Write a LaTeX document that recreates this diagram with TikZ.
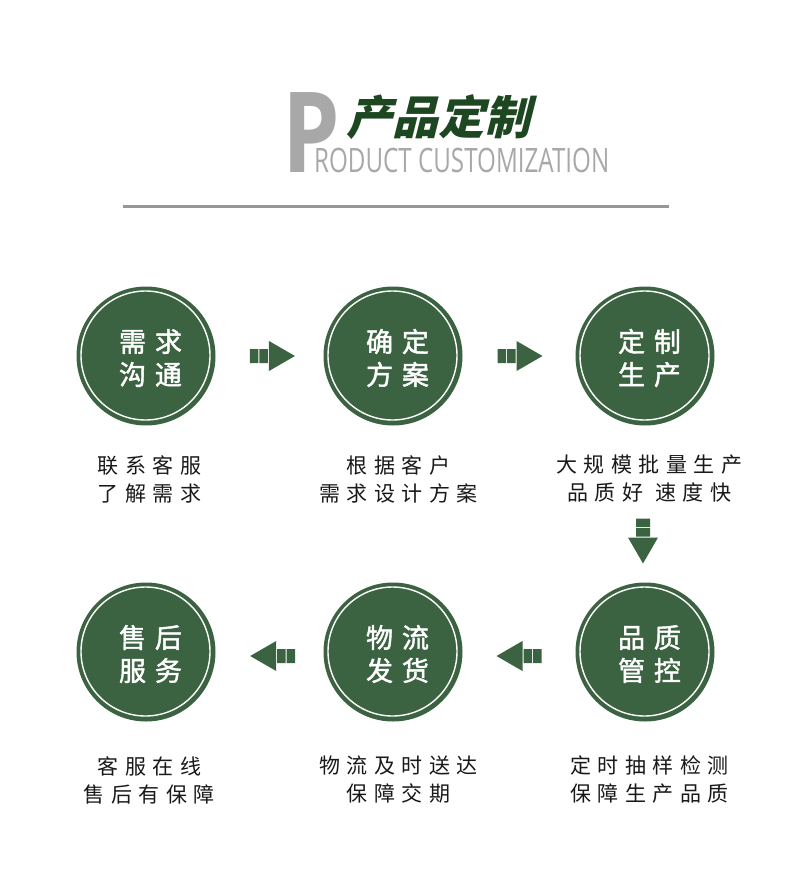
\documentclass[tikz,border=0pt]{standalone}
\usepackage{fontspec}
\usetikzlibrary{calc}
\newfontfamily\cjk{Noto Sans CJK SC}[LetterSpace=33,FakeBold=1.6]
\newfontfamily\cjkcap{Noto Sans CJK SC}[LetterSpace=31]
\newfontfamily\cjktitle{Noto Sans CJK SC}[FakeSlant=0.25]
\newfontfamily\latin{Open Sans}
\definecolor{leaf}{HTML}{3C6341}
\definecolor{deepleaf}{HTML}{1D4721}
\definecolor{ash}{HTML}{A8A8A8}
\begin{document}
\begin{tikzpicture}[x=1pt,y=-1pt,
  stepcircle/.style={circle,fill=leaf,minimum size=139pt,inner sep=0pt,
    path picture={\draw[white,line width=1.4pt] ([xshift=-0.5pt,yshift=0.5pt]path picture bounding box.center) circle (64.5pt);},
    label={[circletext]center:#1}},
  circletext/.style={xshift=4.5pt,yshift=-2pt,text=white,align=center,font=\cjk\fontsize{27}{33}\selectfont},
  caption/.style={xshift=3.3pt,align=center,text=black!90,font=\cjkcap\fontsize{21}{28}\selectfont},
  blockarrow/.pic={\fill[leaf] (-22.5,-7) rectangle (-14,7) (-13,-7) rectangle (-4.5,7)
    (-3.5,-15) -- (22.5,0) -- (-3.5,15) -- cycle;}]
  \fill[white] (0,0) rectangle (790,878);
  \useasboundingbox (0,0) rectangle (790,878);

  % 見出し
  \node [anchor=base west,inner sep=0pt,xscale=0.82,text=ash,font=\latin\bfseries\fontsize{112}{112}\selectfont] (bigp) at (282,172) {P};
  \node [anchor=base west,inner sep=0pt,xscale=0.72,text=ash,font=\latin\fontsize{33.6}{34}\selectfont] (sub) at (314,172) {RODUCT CUSTOMIZATION};
  \node [anchor=west,inner sep=0pt,text=deepleaf,font=\cjktitle\bfseries\fontsize{46}{46}\selectfont] (head) at (346,117) {产品定制};
  \draw [ash!90!black,line width=3pt] (123,206) -- (669,206);

  \node [stepcircle={需求\\沟通}] (c1) at (146,356) {};
  \node [stepcircle={确定\\方案}] (c2) at (393,356) {};
  \node [stepcircle={定制\\生产}] (c3) at (645,356) {};
  \node [stepcircle={售后\\服务}] (c4) at (146,652) {};
  \node [stepcircle={物流\\发货}] (c5) at (393,652) {};
  \node [stepcircle={品质\\管控}] (c6) at (645,652) {};

  \node [caption] (t1) at (146,479) {联系客服\\了解需求};
  \node [caption] (t2) at (395,479) {根据客户\\需求设计方案};
  \node [caption] (t3) at (646,479) {大规模批量生产\\品质好\hspace{12pt}速度快};
  \node [caption] (t4) at (146,780) {客服在线\\售后有保障};
  \node [caption] (t5) at (395,780) {物流及时送达\\保障交期};
  \node [caption] (t6) at (646,780) {定时抽样检测\\保障生产品质};

  \pic at ($(c1)!0.512!(c2)$) {blockarrow};
  \pic at ($(c2)!0.504!(c3)$) {blockarrow};
  \pic [rotate=-90] at ($(c3)!0.625!(c6)+(-2,0)$) {blockarrow};
  \pic [rotate=180] at ($(c6)!0.5!(c5)+(0,4)$) {blockarrow};
  \pic [rotate=180] at ($(c5)!0.487!(c4)+(0,4)$) {blockarrow};
\end{tikzpicture}
\end{document}
